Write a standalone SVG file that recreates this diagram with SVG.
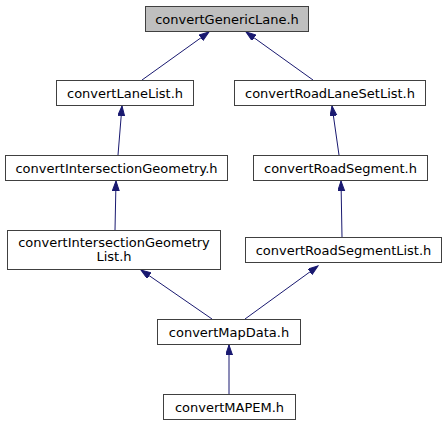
<svg xmlns="http://www.w3.org/2000/svg" width="447" height="425" viewBox="0 0 447 425">
<style>
.n rect{fill:#ffffff;stroke:#404040;stroke-width:1}
.n.root rect{fill:#bfbfbf}
.n text{font-family:"DejaVu Sans",sans-serif;font-size:13px;fill:#000;text-anchor:middle}
.e line{stroke:#191970;stroke-width:1;marker-end:url(#ah)}
</style>
<defs>
<marker id="ah" markerUnits="userSpaceOnUse" markerWidth="11" markerHeight="8" refX="10" refY="3.5" orient="auto">
<path d="M0,0 L10,3.5 L0,7 z" fill="#191970" stroke="#191970"/>
</marker>
</defs>
<rect width="447" height="425" fill="#ffffff"/>
<g id="connectors" class="e">
<line x1="142" y1="80" x2="209" y2="32"/>
<line x1="313" y1="80" x2="246" y2="32"/>
<line x1="118" y1="155" x2="122" y2="106"/>
<line x1="339" y1="155" x2="332" y2="106"/>
<line x1="115" y1="230" x2="116" y2="181"/>
<line x1="342" y1="237" x2="341" y2="181"/>
<line x1="212" y1="319" x2="141" y2="270"/>
<line x1="245" y1="319" x2="318" y2="266"/>
<line x1="229" y1="394" x2="229" y2="345"/>
</g>
<g id="node1" class="n root"><rect x="145.5" y="6.5" width="163" height="25"/><text x="227" y="23.5">convertGenericLane.h</text></g>
<g id="node2" class="n"><rect x="56.5" y="80.5" width="137" height="25"/><text x="125" y="97.5">convertLaneList.h</text></g>
<g id="node3" class="n"><rect x="234.5" y="80.5" width="191" height="25"/><text x="330" y="97.5">convertRoadLaneSetList.h</text></g>
<g id="node4" class="n"><rect x="5.5" y="155.5" width="222" height="25"/><text x="116.5" y="172.5">convertIntersectionGeometry.h</text></g>
<g id="node5" class="n"><rect x="253.5" y="155.5" width="174" height="25"/><text x="340.5" y="172.5">convertRoadSegment.h</text></g>
<g id="node6" class="n"><rect x="7.5" y="230.5" width="213" height="39"/><text x="114" y="246.5">convertIntersectionGeometry</text><text x="114" y="261">List.h</text></g>
<g id="node7" class="n"><rect x="245.5" y="237.5" width="196" height="25"/><text x="343.5" y="254.5">convertRoadSegmentList.h</text></g>
<g id="node8" class="n"><rect x="157.5" y="319.5" width="143" height="25"/><text x="229" y="336.5">convertMapData.h</text></g>
<g id="node9" class="n"><rect x="163.5" y="394.5" width="132" height="25"/><text x="229.5" y="411.5">convertMAPEM.h</text></g>
</svg>
